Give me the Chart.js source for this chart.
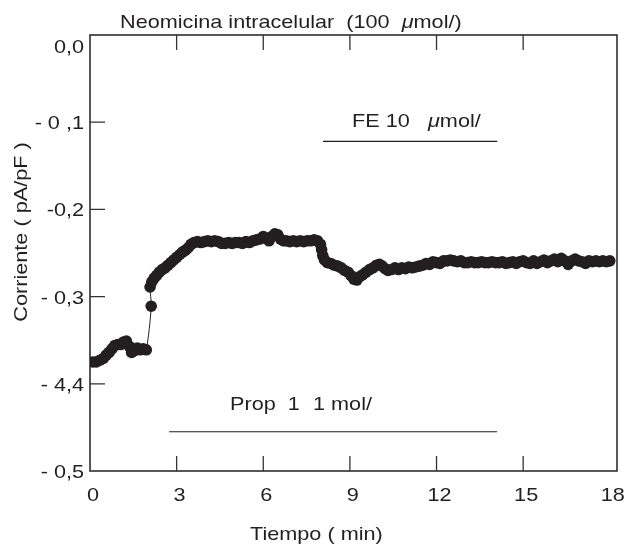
<!DOCTYPE html>
<html>
<head>
<meta charset="utf-8">
<script src="https://cdn.jsdelivr.net/npm/chart.js@4.4.0/dist/chart.umd.min.js"></script>
<style>
  html, body { margin: 0; padding: 0; background: #fff; }
  #wrap { width: 629px; height: 546px; }
</style>
</head>
<body>
<div id="wrap"><canvas id="chart" width="629" height="546"></canvas></div>
<script>
/* ─── Data ─────────────────────────────────────────────────────── */
const timeMin = [
    0.10, 0.22, 0.34, 0.46, 0.56, 0.66, 0.76, 0.86, 0.96, 1.06,
    1.16, 1.26, 1.36, 1.44, 1.54, 1.64, 1.74, 1.84, 1.95,
    2.12, 2.08, 2.14, 2.22, 2.30, 2.40, 2.50, 2.60, 2.70, 2.80,
    2.90, 3.00, 3.10, 3.20, 3.30, 3.40, 3.50, 3.60, 3.72, 3.84,
    3.96, 4.08, 4.20, 4.32, 4.44, 4.56, 4.68, 4.80, 4.92, 5.04,
    5.16, 5.28, 5.40, 5.52, 5.64, 5.76, 5.88, 6.00, 6.10, 6.20,
    6.30, 6.40, 6.50, 6.60, 6.70, 6.80, 6.92, 7.04, 7.16, 7.28,
    7.40, 7.52, 7.64, 7.76, 7.88, 7.98, 8.02, 8.06, 8.12, 8.22,
    8.34, 8.46, 8.58, 8.70, 8.82, 8.94, 9.04, 9.14, 9.24, 9.34,
    9.44, 9.56, 9.68, 9.80, 9.92, 10.02, 10.12, 10.22, 10.32, 10.44,
    10.56, 10.68, 10.80, 10.92, 11.04, 11.16, 11.28, 11.40, 11.52, 11.64,
    11.76, 11.88, 12.00, 12.12, 12.24, 12.36, 12.48, 12.60, 12.72, 12.84,
    12.96, 13.08, 13.20, 13.32, 13.44, 13.56, 13.68, 13.80, 13.92, 14.04,
    14.16, 14.28, 14.40, 14.52, 14.64, 14.76, 14.88, 15.00, 15.12, 15.24,
    15.36, 15.48, 15.60, 15.72, 15.84, 15.96, 16.08, 16.20, 16.32, 16.44,
    16.56, 16.68, 16.80, 16.92, 17.04, 17.16, 17.28, 17.40, 17.52, 17.64,
    17.76, 17.88, 18.00
];
const current = [
    -0.375, -0.375, -0.373, -0.371, -0.367, -0.364, -0.360, -0.356, -0.355, -0.355,
    -0.352, -0.351, -0.357, -0.364, -0.362, -0.359, -0.361, -0.360, -0.361,
    -0.311, -0.289, -0.283, -0.279, -0.276, -0.272, -0.269, -0.267, -0.264, -0.261,
    -0.258, -0.255, -0.252, -0.249, -0.247, -0.244, -0.240, -0.238, -0.237, -0.238,
    -0.237, -0.236, -0.237, -0.236, -0.237, -0.239, -0.239, -0.238, -0.239, -0.238,
    -0.238, -0.239, -0.237, -0.238, -0.236, -0.235, -0.234, -0.231, -0.233, -0.236,
    -0.231, -0.228, -0.229, -0.234, -0.236, -0.236, -0.237, -0.236, -0.237, -0.236,
    -0.237, -0.236, -0.236, -0.235, -0.236, -0.240, -0.246, -0.253, -0.258, -0.261,
    -0.262, -0.264, -0.265, -0.267, -0.270, -0.272, -0.276, -0.280, -0.281, -0.277,
    -0.275, -0.272, -0.269, -0.267, -0.264, -0.263, -0.265, -0.268, -0.270, -0.269,
    -0.267, -0.269, -0.267, -0.268, -0.266, -0.267, -0.266, -0.265, -0.264, -0.262,
    -0.263, -0.260, -0.261, -0.262, -0.259, -0.259, -0.258, -0.259, -0.260, -0.259,
    -0.261, -0.261, -0.260, -0.261, -0.261, -0.260, -0.261, -0.261, -0.260, -0.261,
    -0.261, -0.260, -0.262, -0.261, -0.260, -0.262, -0.260, -0.259, -0.261, -0.262,
    -0.259, -0.262, -0.260, -0.258, -0.261, -0.259, -0.257, -0.260, -0.256, -0.259,
    -0.263, -0.259, -0.257, -0.259, -0.260, -0.262, -0.259, -0.260, -0.259, -0.260,
    -0.259, -0.260, -0.259
];
const xTicks       = [0, 3, 6, 9, 12, 15, 18];
const yTicks       = [0, -0.1, -0.2, -0.3, -0.4, -0.5];
const yTickLabels  = ['0,0', '- 0 ,1', '-0,2', '- 0,3', '- 4,4', '- 0,5'];
// drug application bars: [start, end] in min, at a current level
const feBar        = [8.07, 14.1];
const feLevel      = -0.122;
const propBar      = [2.74, 14.1];
const propLevel    = -0.455;

/* ─── Text helpers (Helvetica look, slightly wide) ─────────────── */
const INK  = '#231f20';
const FONT = 'Liberation Sans, Arial, sans-serif';
const SIZE = 19;
const SX   = 1.14;

function runWidth(ctx, r) {
    ctx.font = `${r.it ? 'italic ' : ''}${r.size || SIZE}px ${FONT}`;
    return ctx.measureText(r.t).width * (r.sx || SX);
}

function drawRuns(ctx, runs, x, y, align) {
    const total = runs.reduce((s, r) => s + runWidth(ctx, r), 0);
    let cx = align === 'center' ? x - total / 2 : align === 'right' ? x - total : x;
    ctx.fillStyle    = INK;
    ctx.textAlign    = 'left';
    ctx.textBaseline = 'alphabetic';
    runs.forEach(r => {
        const w = runWidth(ctx, r);
        ctx.save();
        ctx.translate(cx, y);
        ctx.scale(r.sx || SX, 1);
        ctx.fillText(r.t, 0, 0);
        ctx.restore();
        cx += w;
    });
}

/* ─── Frame, inward ticks, labels, annotations ─────────────────── */
const decorPlugin = {
    id: 'decor',
    afterDatasetsDraw(chart) {
        const { ctx, chartArea: a, scales: { x, y } } = chart;
        ctx.save();

        // frame
        ctx.strokeStyle = INK;
        ctx.lineWidth   = 1.5;
        ctx.strokeRect(a.left, a.top, a.right - a.left, a.bottom - a.top);

        // inward ticks
        ctx.lineWidth = 1.3;
        ctx.strokeStyle = '#333';
        ctx.beginPath();
        xTicks.slice(1, -1).forEach(v => {
            const px = x.getPixelForValue(v);
            ctx.moveTo(px, a.bottom); ctx.lineTo(px, a.bottom - 15);
            ctx.moveTo(px, a.top);    ctx.lineTo(px, a.top + 15);
        });
        yTicks.slice(1, -1).forEach(v => {
            const py = y.getPixelForValue(v);
            ctx.moveTo(a.left, py); ctx.lineTo(a.left + 15, py);
        });
        ctx.stroke();

        // tick labels
        xTicks.forEach(v => {
            drawRuns(ctx, [{ t: String(v) }], x.getPixelForValue(v) + 3, a.bottom + 30, 'center');
        });
        yTicks.forEach((v, i) => {
            let py = y.getPixelForValue(v) + 7;
            if (i === 0) py += 11;
            drawRuns(ctx, [{ t: yTickLabels[i] }], a.left - 6, py, 'right');
        });

        // axis titles
        drawRuns(ctx, [{ t: 'Tiempo ( min)' }], 250, 540, 'left');
        ctx.save();
        ctx.translate(27, 232);
        ctx.rotate(-Math.PI / 2);
        drawRuns(ctx, [{ t: 'Corriente ( pA/pF )' }], 0, 0, 'center');
        ctx.restore();

        // title
        drawRuns(ctx, [{ t: 'Neomicina intracelular  (100  ' }, { t: 'μ', it: true }, { t: 'mol/)' }], 120, 28, 'left');

        // application bars
        ctx.strokeStyle = INK;
        ctx.lineWidth   = 1.2;
        ctx.beginPath();
        const fy = y.getPixelForValue(feLevel);
        ctx.moveTo(x.getPixelForValue(feBar[0]), fy);
        ctx.lineTo(x.getPixelForValue(feBar[1]), fy);
        const py = y.getPixelForValue(propLevel);
        ctx.moveTo(x.getPixelForValue(propBar[0]), py);
        ctx.lineTo(x.getPixelForValue(propBar[1]), py);
        ctx.stroke();

        drawRuns(ctx, [{ t: 'FE 10' }], 352, fy - 14, 'left');
        drawRuns(ctx, [{ t: 'μ', it: true }, { t: 'mol/' }], 428, fy - 14, 'left');
        drawRuns(ctx, [{ t: 'Prop  1' }], 230, py - 22, 'left');
        drawRuns(ctx, [{ t: '1 mol/' }], 313, py - 22, 'left');

        ctx.restore();
    }
};

/* ─── Chart ────────────────────────────────────────────────────── */
const points = timeMin.map((t, i) => ({ x: t, y: current[i] }));

new Chart(document.getElementById('chart'), {
    type: 'scatter',
    data: {
        datasets: [{
            data            : points,
            showLine        : true,
            borderColor     : INK,
            borderWidth     : 1,
            backgroundColor : INK,
            pointRadius     : 5.8,
            pointBorderWidth: 0,
            tension         : 0.3,
        }],
    },
    options: {
        responsive          : false,
        animation           : false,
        devicePixelRatio    : 1,
        layout              : { padding: { left: 90, top: 35, right: 12, bottom: 75 } },
        plugins             : { legend: { display: false }, tooltip: { enabled: false } },
        scales: {
            x: { type: 'linear', min: 0, max: 18.25, display: false },
            y: { type: 'linear', min: -0.5, max: 0, display: false },
        },
    },
    plugins: [decorPlugin],
});
</script>
</body>
</html>
